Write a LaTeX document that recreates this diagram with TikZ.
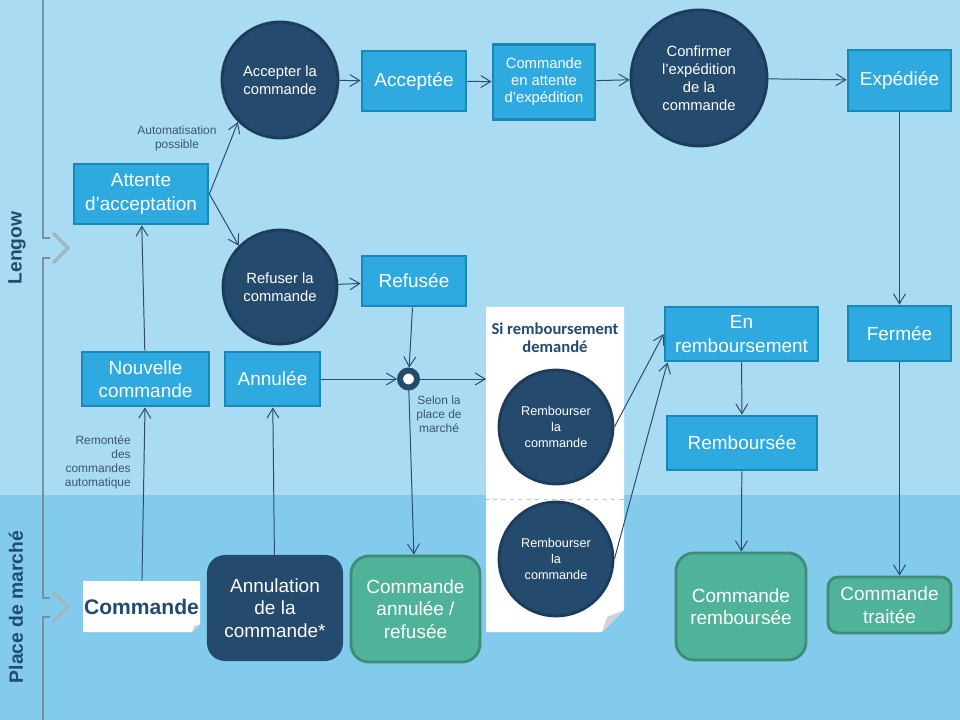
\documentclass[tikz,border=0pt]{standalone}
\usepackage{fontspec}
\setmainfont{Liberation Sans}
\newfontfamily\carlito{Carlito}
\usetikzlibrary{arrows.meta,positioning}

\definecolor{lanetop}{HTML}{A9DCF3}
\definecolor{lanebot}{HTML}{82CBEC}
\definecolor{boxfill}{HTML}{2EAAE1}
\definecolor{boxline}{HTML}{1B86B8}
\definecolor{navy}{HTML}{244A6E}
\definecolor{navyline}{HTML}{1D3B5A}
\definecolor{vert}{HTML}{4FB39A}
\definecolor{vertline}{HTML}{3E8C77}
\definecolor{fleche}{HTML}{2C4B6E}
\definecolor{legende}{HTML}{3B5673}
\definecolor{trait}{HTML}{7791A2}
\definecolor{chevron}{HTML}{A3B7C3}
\definecolor{pli}{HTML}{D2D2D2}

\begin{document}
\begin{tikzpicture}[x=0.025cm,y=-0.025cm,
    >={Straight Barb[length=7pt,width=8.5pt]},
    statut/.style={rectangle,fill=boxfill,draw=boxline,line width=2pt,text=white,
      align=center,inner sep=1pt,font=\fontsize{13.5}{16.5}\selectfont},
    rond/.style={circle,fill=navy,draw=navyline,line width=2pt,text=white,
      align=center,inner sep=1pt,font=\fontsize{10.5}{12.8}\selectfont},
    fin/.style={rectangle,rounded corners=0.45cm,fill=vert,draw=vertline,line width=2pt,
      text=white,align=center,font=\fontsize{13.5}{16}\selectfont},
    lbl/.style={text=legende,align=center,inner sep=0pt,font=\fontsize{8.5}{10}\selectfont},
    lane/.style={rotate=90,text=navy,font=\bfseries\fontsize{13.7}{16}\selectfont}]
  \useasboundingbox (0,0) rectangle (960,720);
  \fill[lanetop] (0,0) rectangle (960,495);
  \fill[lanebot] (0,495) rectangle (960,720);

  \draw[trait,line width=2pt] (43,0) -- (43,238) -- (50,238);
  \draw[trait,line width=2pt] (50,258) -- (43,258) -- (43,598) -- (50,598);
  \draw[trait,line width=2pt] (50,617) -- (43,617) -- (43,720);
  \draw[chevron,line width=2.5pt] (53,233) -- (68,248) -- (53,263);
  \draw[chevron,line width=2.5pt] (53,592) -- (68,607) -- (53,622);
  \node[lane] (lengow) at (17,248) {Lengow};
  \node[lane] (marche) at (16,607) {Place de marché};

  \fill[white] (486,307) -- (624,307) -- (624,610) -- (602,632) -- (486,632) -- cycle;
  \fill[pli] (624,610) -- (602,632) -- (607,617) -- cycle;
  \draw[pli!80!gray,dashed] (476,499) -- (640,499);
  \fill[white] (83,581) -- (200,581) -- (200,624) -- (192,632) -- (83,632) -- cycle;
  \fill[pli] (200,624) -- (192,632) -- (194,626) -- cycle;

  \node[text=navy,font=\bfseries\fontsize{15}{18}\selectfont,inner sep=0pt,
    minimum width=2.925cm,minimum height=1.275cm] (commande) at (141.5,606.5) {Commande};
  \node[inner sep=0pt,outer sep=0pt,minimum width=3.45cm,minimum height=8.125cm]
    (panneau) at (555,469.5) {};
  \node[text=navy,align=center,font=\carlito\bfseries\fontsize{11.8}{12.8}\selectfont]
    (titre) at (555,338) {Si remboursement\\demandé};

  \node[statut,minimum width=3.35cm,minimum height=1.5cm] (attente) at (141,194) {Attente\\d’acceptation};
  \node[statut,minimum width=3.175cm,minimum height=1.35cm] (nouvelle) at (145.5,379) {Nouvelle\\commande};
  \node[statut,minimum width=2.375cm,minimum height=1.35cm] (annulee) at (272.5,379) {Annulée};
  \node[rond,minimum size=2.9cm] (accepter) at (280,80) {Accepter la\\commande};
  \node[rond,minimum size=2.85cm] (refuser) at (280,287) {Refuser la\\commande};
  \node[statut,minimum width=2.6cm,minimum height=1.5cm] (acceptee) at (414,81) {Acceptée};
  \node[statut,minimum width=2.6cm,minimum height=1.25cm] (refusee) at (414,281) {Refusée};
  \node[statut,minimum width=2.55cm,minimum height=1.875cm,
    font=\fontsize{10.5}{12}\selectfont] (attexp) at (544,82) {Commande\\en attente\\d’expédition};
  \node[rond,minimum size=3.4cm] (confirmer) at (699,78) {Confirmer\\l’expédition\\de la\\commande};
  \node[statut,minimum width=2.575cm,minimum height=1.525cm] (expediee) at (899.5,80.5) {Expédiée};
  \node[statut,minimum width=2.575cm,minimum height=1.375cm] (fermee) at (899.5,333.5) {Fermée};
  \node[statut,minimum width=3.825cm,minimum height=1.35cm] (enremb) at (741.5,334) {En\\remboursement};
  \node[statut,minimum width=3.75cm,minimum height=1.35cm] (rembsee) at (742,443) {Remboursée};
  \node[circle,draw=navy,fill=white,line width=4.2pt,minimum size=0.425cm,inner sep=0pt]
    (jonction) at (408.5,379) {};
  \node[rond,minimum size=2.85cm,font=\fontsize{9}{11.3}\selectfont] (remb1) at (556,427) {Rembourser\\la\\commande};
  \node[rond,minimum size=2.85cm,font=\fontsize{9}{11.3}\selectfont] (remb2) at (556,559) {Rembourser\\la\\commande};

  \node[rectangle,rounded corners=0.45cm,fill=navy,text=white,align=center,
    font=\fontsize{13.5}{16}\selectfont,minimum width=3.4cm,minimum height=2.65cm]
    (annulation) at (275,608) {Annulation\\de la\\commande*};
  \node[fin,minimum width=3.225cm,minimum height=2.65cm] (annref) at (415.5,609) {Commande\\annulée /\\refusée};
  \node[fin,minimum width=3.25cm,minimum height=2.675cm] (rembcmd) at (741,606.5) {Commande\\remboursée};
  \node[fin,rounded corners=0.25cm,minimum width=3.075cm,minimum height=1.4cm] (traitee) at (889.5,605) {Commande\\traitée};

  \node[lbl,align=right,anchor=east] (remontee) at (131,462) {Remontée\\des\\commandes\\automatique};
  \node[lbl] (auto) at (177,138) {Automatisation\\possible};
  \node[lbl] (selon) at (439,414) {Selon la\\place de\\marché};

  \path[->,color=fleche,line width=0.7pt]
    (commande) edge (nouvelle)
    (nouvelle) edge (attente)
    (attente.east) edge (accepter.south west)
    (attente.east) edge (refuser.north west)
    (accepter) edge (acceptee)
    (acceptee) edge (attexp)
    (attexp) edge (confirmer)
    (confirmer) edge (expediee)
    (expediee) edge (fermee)
    (fermee) edge (fermee |- traitee.north)
    (refuser) edge (refusee)
    (refusee) edge (jonction)
    (annulee) edge (jonction)
    (annulation) edge (annulee)
    (jonction) edge (jonction -| panneau.west)
    (jonction) edge (annref)
    (remb1.east) edge (enremb.west)
    (remb2.east) edge (enremb.201.5)
    (enremb) edge (rembsee)
    (rembsee) edge (rembcmd);
\end{tikzpicture}
\end{document}
